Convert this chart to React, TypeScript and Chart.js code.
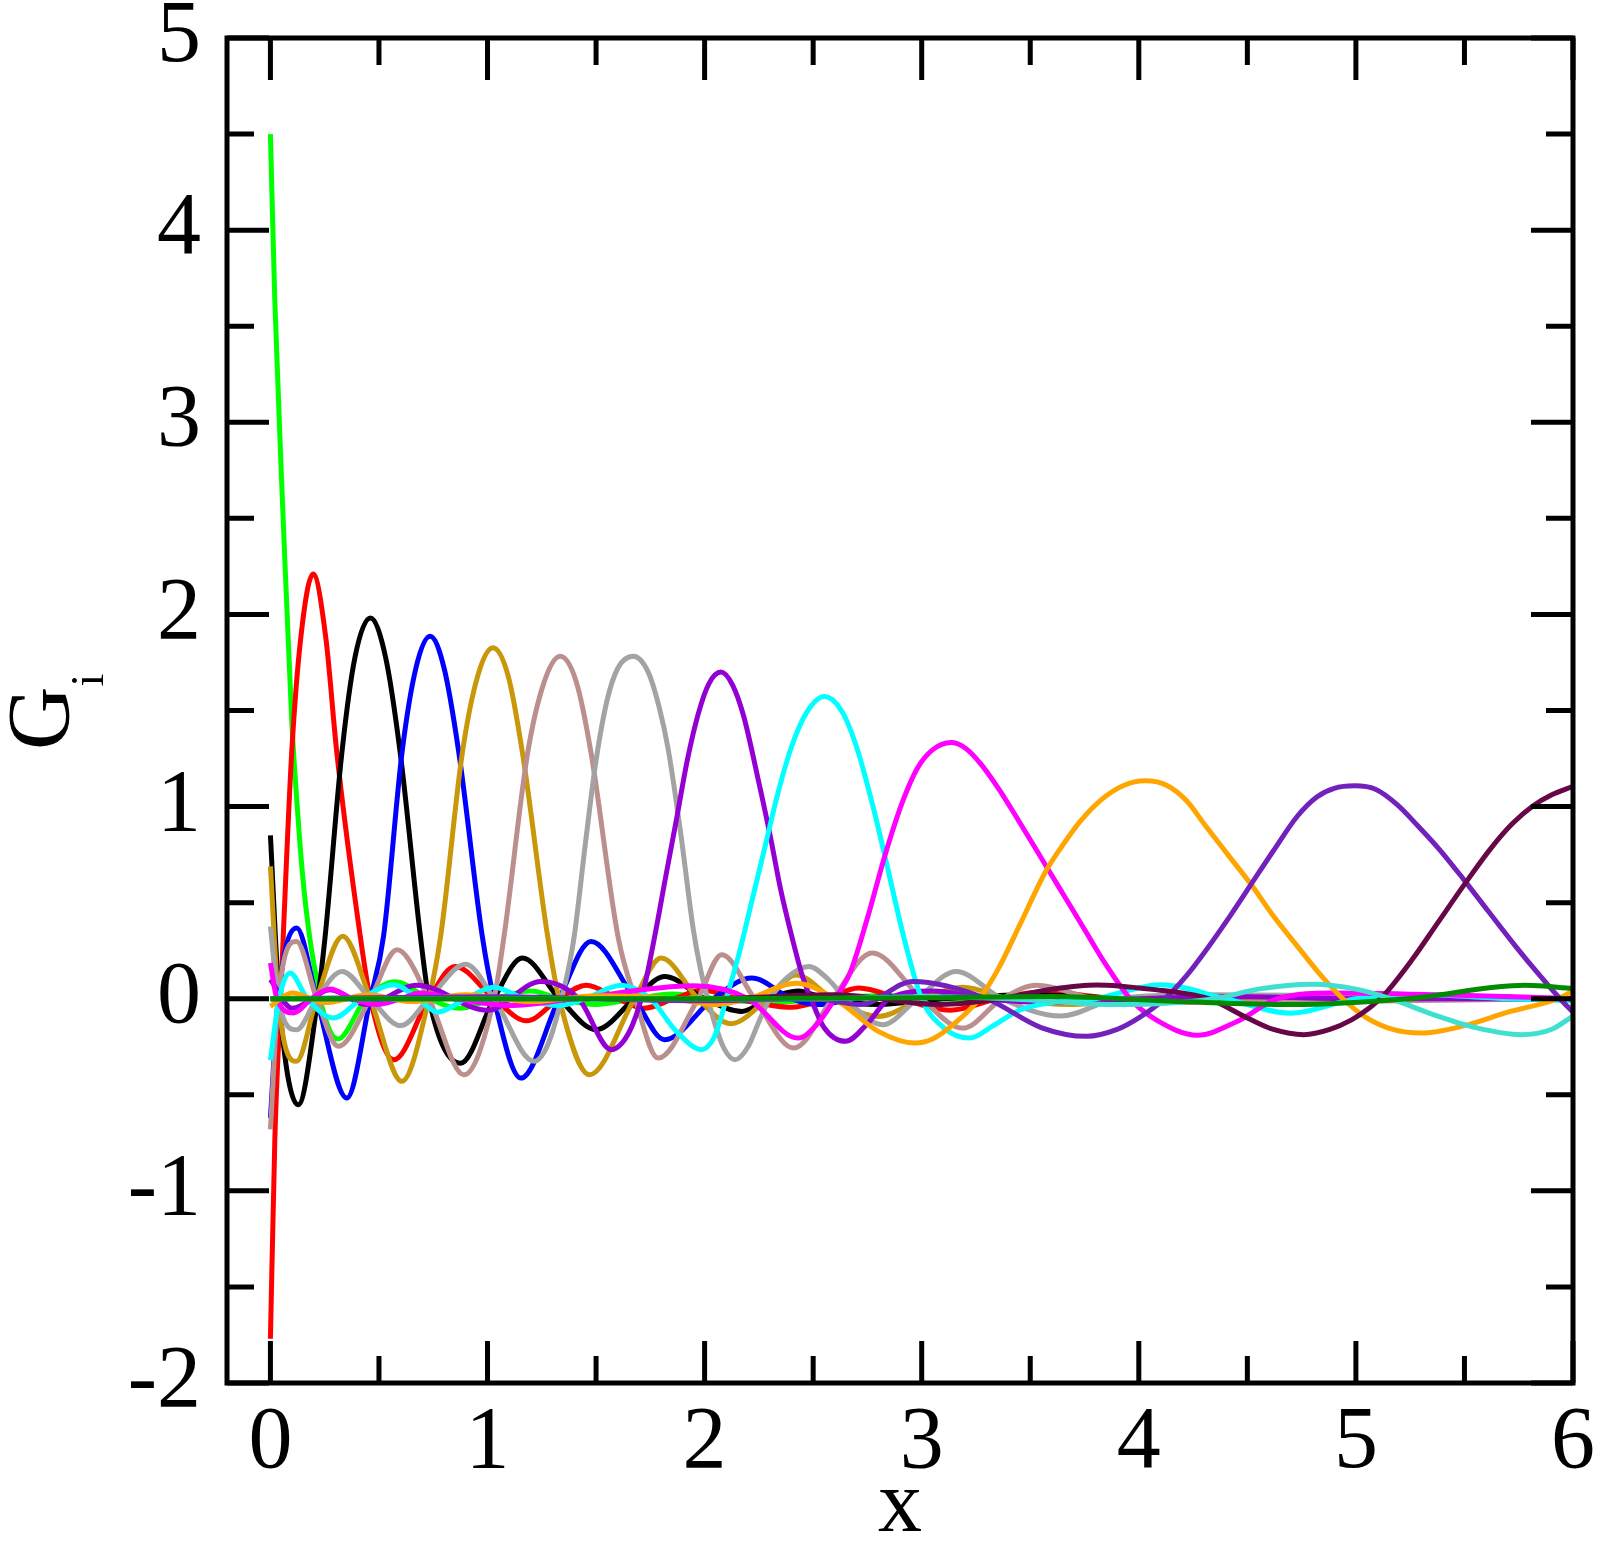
import React, { useEffect, useRef } from 'react';
import { Chart, registerables } from 'chart.js';

Chart.register(...registerables);

// ---- axis ticks ----
const X_MAJOR = [0, 1, 2, 3, 4, 5, 6];
const X_MINOR = [0.5, 1.5, 2.5, 3.5, 4.5, 5.5];
const Y_MAJOR = [-2, -1, 0, 1, 2, 3, 4, 5];
const Y_MINOR = [-1.5, -0.5, 0.5, 1.5, 2.5, 3.5, 4.5];
const X_MIN = -0.2;
const X_MAX = 6;
const Y_MIN = -2;
const Y_MAX = 5;

// ---- series values ----
const greenX = [0, 0.02, 0.059, 0.098, 0.121, 0.15, 0.182, 0.213, 0.228, 0.31, 0.44, 0.575, 0.73, 0.87, 1.03, 1.2, 1.33, 1.5, 1.68, 1.85, 2.05, 2.3, 2.56, 2.8, 3.1, 3.5, 4.0, 4.5, 5.0, 6.0];
const greenY = [4.5, 3.64, 2.49, 1.45, 1.04, 0.62, 0.31, 0.1, 0, -0.21, 0, 0.088, 0, -0.05, 0, 0.04, 0, -0.03, 0, 0.025, 0, -0.02, 0, 0.015, 0, -0.01, 0, 0.005, 0, 0];

const redX = [0, 0.0204, 0.047, 0.059, 0.098, 0.14, 0.197, 0.255, 0.306, 0.414, 0.46, 0.568, 0.73, 0.85, 1.03, 1.18, 1.33, 1.455, 1.6, 1.72, 1.86, 1.99, 2.15, 2.4, 2.56, 2.71, 2.9, 3.13, 3.35, 3.55, 3.9, 4.3, 4.8, 5.3, 6.0];
const redY = [-1.77, -0.73, 0, 0.324, 1.279, 1.88, 2.21, 1.88, 1.279, 0.324, 0, -0.318, 0, 0.168, 0, -0.115, 0, 0.07, 0, -0.05, 0, 0.045, 0, -0.045, 0, 0.056, 0, -0.06, 0, 0.035, 0, -0.02, 0, 0.015, 0];

const blackX = [0, 0.04, 0.128, 0.218, 0.252, 0.329, 0.39, 0.46, 0.53, 0.598, 0.691, 0.73, 0.876, 1.03, 1.161, 1.331, 1.5, 1.677, 1.816, 2.0, 2.172, 2.294, 2.43, 2.56, 2.8, 3.1, 3.5, 4.0, 6.0];
const blackY = [0.85, 0, -0.552, 0, 0.324, 1.279, 1.78, 1.982, 1.78, 1.279, 0.324, 0, -0.336, 0, 0.212, 0, -0.161, 0, 0.116, 0, -0.066, 0, 0.04, 0, -0.03, 0, 0.02, 0, 0];

const blueX = [0, 0.036, 0.121, 0.213, 0.352, 0.46, 0.521, 0.606, 0.67, 0.736, 0.8, 0.868, 0.976, 1.03, 1.154, 1.33, 1.477, 1.677, 1.816, 2.04, 2.217, 2.4, 2.52, 2.7, 3.0, 3.4, 6.0];
const blueY = [-0.62, 0, 0.368, 0, -0.517, 0, 0.324, 1.279, 1.72, 1.886, 1.72, 1.279, 0.324, 0, -0.413, 0, 0.298, 0, -0.213, 0, 0.108, 0, -0.03, 0, 0.015, 0, 0];

const goldX = [0, 0.036, 0.12, 0.213, 0.333, 0.46, 0.606, 0.73, 0.784, 0.884, 0.955, 1.025, 1.095, 1.161, 1.277, 1.33, 1.47, 1.677, 1.8, 1.97, 2.12, 2.29, 2.42, 2.59, 2.8, 3.0, 3.19, 3.4, 3.7, 4.0, 6.0];
const goldY = [0.689, 0, -0.326, 0, 0.325, 0, -0.43, 0, 0.324, 1.279, 1.68, 1.826, 1.68, 1.279, 0.324, 0, -0.396, 0, 0.212, 0, -0.13, 0, 0.124, 0, -0.092, 0, 0.06, 0, -0.03, 0, 0];

const rosyX = [0, 0.036, 0.12, 0.213, 0.313, 0.46, 0.583, 0.73, 0.891, 1.03, 1.076, 1.185, 1.26, 1.335, 1.41, 1.477, 1.601, 1.68, 1.786, 1.97, 2.079, 2.23, 2.41, 2.59, 2.772, 3.0, 3.189, 3.37, 3.53, 3.8, 4.2, 6.0];
const rosyY = [-0.68, 0, 0.298, 0, -0.248, 0, 0.255, 0, -0.396, 0, 0.324, 1.279, 1.645, 1.782, 1.645, 1.279, 0.324, 0, -0.309, 0, 0.229, 0, -0.257, 0, 0.238, 0, -0.153, 0, 0.07, 0, -0.02, 0];

const grayX = [0, 0.036, 0.12, 0.213, 0.33, 0.46, 0.6, 0.73, 0.9, 1.03, 1.215, 1.26, 1.3, 1.34, 1.37, 1.4, 1.45, 1.5, 1.55, 1.6, 1.672, 1.74, 1.79, 1.832, 1.89, 1.948, 1.98, 2.01, 2.05, 2.09, 2.14, 2.2, 2.25, 2.3, 2.38, 2.48, 2.57, 2.65, 2.82, 2.98, 3.158, 3.37, 3.64, 3.9, 4.3, 6.0];
const grayY = [0.376, 0, -0.162, 0, 0.142, 0, -0.14, 0, 0.18, 0, -0.326, -0.28, -0.17, 0, 0.14, 0.33, 0.8, 1.24, 1.55, 1.72, 1.782, 1.7, 1.52, 1.3, 0.86, 0.36, 0.16, 0.02, -0.14, -0.26, -0.318, -0.25, -0.12, 0, 0.11, 0.168, 0.1, 0, -0.135, 0, 0.142, 0, -0.09, 0, 0.02, 0];

const violetX = [0, 0.1, 0.275, 0.44, 0.675, 1.0, 1.246, 1.42, 1.57, 1.62, 1.67, 1.72, 1.77, 1.82, 1.873, 1.92, 1.97, 2.02, 2.075, 2.13, 2.18, 2.247, 2.3, 2.35, 2.405, 2.45, 2.49, 2.55, 2.649, 2.75, 2.85, 3.05, 3.3, 3.6, 4.0, 4.5, 5.0, 6.0];
const violetY = [0.1, -0.05, 0.047, -0.03, 0.07, -0.06, 0.09, 0, -0.265, -0.23, -0.13, 0.05, 0.324, 0.63, 0.95, 1.24, 1.48, 1.64, 1.7, 1.63, 1.47, 1.14, 0.86, 0.57, 0.309, 0.12, 0, -0.15, -0.222, -0.13, 0, 0.04, 0, -0.02, 0, 0.01, 0, 0];

const cyanX = [0, 0.04, 0.09, 0.17, 0.29, 0.42, 0.568, 0.68, 0.77, 0.9, 1.03, 1.17, 1.33, 1.45, 1.616, 1.75, 1.87, 1.986, 2.04, 2.07, 2.1, 2.16, 2.22, 2.28, 2.34, 2.4, 2.47, 2.552, 2.63, 2.7, 2.775, 2.834, 2.92, 3.0, 3.1, 3.22, 3.33, 3.45, 3.6, 3.8, 4.1, 4.4, 4.7, 5.0, 5.3, 5.7, 6.0];
const cyanY = [-0.32, 0, 0.134, 0, -0.1, 0, 0.073, 0, -0.07, 0, 0.06, 0, -0.035, 0, 0.07, 0, -0.17, -0.265, -0.21, -0.12, 0, 0.24, 0.52, 0.8, 1.08, 1.31, 1.49, 1.573, 1.5, 1.31, 1.003, 0.724, 0.309, 0, -0.15, -0.205, -0.14, -0.06, -0.02, 0, 0.073, 0, -0.075, 0, 0.02, 0, -0.01];

const magentaX = [0, 0.03, 0.107, 0.19, 0.275, 0.38, 0.49, 0.6, 0.69, 0.85, 1.1, 1.4, 1.95, 2.2, 2.43, 2.52, 2.6, 2.67, 2.75, 2.83, 2.91, 2.98, 3.05, 3.135, 3.2, 3.27, 3.35, 3.45, 3.568, 3.651, 3.75, 3.85, 3.96, 4.08, 4.27, 4.45, 4.64, 4.9, 5.4, 6.0];
const magentaY = [0.186, 0, -0.074, 0, 0.05, 0, -0.03, 0, 0.03, 0, -0.035, 0, 0.067, 0, -0.205, -0.13, 0, 0.135, 0.42, 0.743, 1.02, 1.2, 1.295, 1.333, 1.305, 1.225, 1.1, 0.92, 0.7, 0.545, 0.36, 0.175, 0, -0.11, -0.19, -0.12, 0, 0.03, 0.02, 0];

const orangeX = [0, 0.1, 0.25, 0.45, 0.65, 0.9, 1.2, 1.5, 1.85, 2.05, 2.2, 2.42, 2.6, 2.8, 2.97, 3.05, 3.15, 3.266, 3.35, 3.45, 3.568, 3.65, 3.73, 3.832, 3.93, 4.03, 4.13, 4.22, 4.308, 4.41, 4.52, 4.62, 4.73, 4.84, 4.94, 5.05, 5.17, 5.3, 5.5, 5.7, 5.93, 6.0];
const orangeY = [-0.04, 0.03, -0.02, 0.02, -0.015, 0.02, -0.015, 0.015, 0, -0.03, 0, 0.08, 0, -0.17, -0.231, -0.21, -0.13, 0, 0.15, 0.38, 0.656, 0.8, 0.923, 1.04, 1.11, 1.134, 1.11, 1.03, 0.899, 0.75, 0.59, 0.43, 0.274, 0.12, 0, -0.1, -0.16, -0.179, -0.14, -0.07, 0, 0.04];

const indigoX = [0, 1.0, 2.0, 2.5, 2.72, 2.96, 3.3, 3.55, 3.76, 3.9, 4.0, 4.12, 4.22, 4.308, 4.42, 4.52, 4.62, 4.731, 4.82, 4.9, 4.995, 5.09, 5.19, 5.286, 5.39, 5.497, 5.61, 5.735, 5.84, 5.94, 6.0];
const indigoY = [0, 0.01, -0.01, 0, -0.03, 0.09, 0, -0.15, -0.196, -0.16, -0.1, 0, 0.12, 0.25, 0.43, 0.6, 0.77, 0.951, 1.05, 1.095, 1.108, 1.09, 1.01, 0.899, 0.77, 0.62, 0.455, 0.274, 0.13, 0, -0.07];

const maroonX = [0, 2.0, 2.6, 3.09, 3.36, 3.6, 3.806, 4.05, 4.32, 4.5, 4.62, 4.76, 4.88, 4.98, 5.06, 5.13, 5.26, 5.38, 5.5, 5.62, 5.72, 5.815, 5.9, 6.0];
const maroonY = [0, 0, 0.02, -0.03, 0, 0.05, 0.072, 0.05, 0, -0.1, -0.16, -0.187, -0.16, -0.11, -0.05, 0.02, 0.205, 0.4, 0.595, 0.78, 0.91, 1.003, 1.06, 1.105];

const turquoiseX = [0, 2.5, 3.0, 3.4, 3.9, 4.35, 4.55, 4.8, 5.0, 5.16, 5.35, 5.55, 5.76, 5.9, 6.0];
const turquoiseY = [0, 0, 0.01, 0, -0.03, 0, 0.05, 0.075, 0.05, 0, -0.08, -0.15, -0.187, -0.16, -0.09];

const green4X = [0, 2.0, 3.0, 3.6, 4.2, 4.7, 5.24, 5.78, 6.0];
const green4Y = [0, 0, 0.005, 0.012, -0.015, -0.03, 0, 0.07, 0.053];

const SERIES = [
  { name: 'G1', color: '#00ff00', xs: greenX, ys: greenY },
  { name: 'G2', color: '#ff0000', xs: redX, ys: redY },
  { name: 'G3', color: '#000000', xs: blackX, ys: blackY },
  { name: 'G4', color: '#0000ff', xs: blueX, ys: blueY },
  { name: 'G5', color: '#c9970a', xs: goldX, ys: goldY },
  { name: 'G6', color: '#bc8f8f', xs: rosyX, ys: rosyY },
  { name: 'G7', color: '#a3a3a3', xs: grayX, ys: grayY },
  { name: 'G8', color: '#9400d3', xs: violetX, ys: violetY },
  { name: 'G9', color: '#00ffff', xs: cyanX, ys: cyanY },
  { name: 'G10', color: '#ff00ff', xs: magentaX, ys: magentaY },
  { name: 'G11', color: '#ffa500', xs: orangeX, ys: orangeY },
  { name: 'G12', color: '#7221bc', xs: indigoX, ys: indigoY },
  { name: 'G13', color: '#670748', xs: maroonX, ys: maroonY },
  { name: 'G14', color: '#40e0d0', xs: turquoiseX, ys: turquoiseY },
  { name: 'G15', color: '#008b00', xs: green4X, ys: green4Y },
];

const FONT_FAMILY = "'Liberation Serif', 'Times New Roman', serif";
const TICK_FONT_SIZE = 88;

const framePlugin = {
  id: 'xmgraceFrame',
  afterDatasetsDraw(chart: any) {
    const { ctx, chartArea } = chart;
    const { left, right, top, bottom } = chartArea;
    const xs = chart.scales.x;
    const ys = chart.scales.y;
    const MAJOR = 42;
    const MINOR = 27;
    ctx.save();
    ctx.strokeStyle = '#000';
    ctx.lineWidth = 5;
    ctx.lineCap = 'butt';
    ctx.beginPath();
    const tickX = (v: number, len: number) => {
      const p = xs.getPixelForValue(v);
      ctx.moveTo(p, bottom);
      ctx.lineTo(p, bottom - len);
      ctx.moveTo(p, top);
      ctx.lineTo(p, top + len);
    };
    const tickY = (v: number, len: number) => {
      const p = ys.getPixelForValue(v);
      ctx.moveTo(left, p);
      ctx.lineTo(left + len, p);
      ctx.moveTo(right, p);
      ctx.lineTo(right - len, p);
    };
    X_MAJOR.forEach((v) => tickX(v, MAJOR));
    X_MINOR.forEach((v) => tickX(v, MINOR));
    Y_MAJOR.forEach((v) => tickY(v, MAJOR));
    Y_MINOR.forEach((v) => tickY(v, MINOR));
    ctx.stroke();
    ctx.lineJoin = 'miter';
    ctx.strokeRect(left, top, right - left, bottom - top);
    ctx.restore();
  },
  afterDraw(chart: any) {
    const { ctx, chartArea } = chart;
    ctx.save();
    ctx.fillStyle = '#000';
    // x axis title
    ctx.font = `${TICK_FONT_SIZE}px ${FONT_FAMILY}`;
    ctx.textAlign = 'center';
    ctx.textBaseline = 'alphabetic';
    ctx.fillText('x', (chartArea.left + chartArea.right) / 2, 1531);
    // y axis title G_i (rotated)
    ctx.translate(68, 750);
    ctx.rotate(-Math.PI / 2);
    ctx.textAlign = 'left';
    ctx.fillText('G', 0, 0);
    const w = ctx.measureText('G').width;
    ctx.font = `46px ${FONT_FAMILY}`;
    ctx.fillText('i', w, 35);
    ctx.restore();
  },
};

export default function App() {
  const ref = useRef<HTMLCanvasElement | null>(null);

  useEffect(() => {
    const canvas = ref.current;
    if (!canvas) return;
    const datasets = SERIES.map((s, i) => ({
      label: s.name,
      data: s.xs.map((x, k) => ({ x, y: s.ys[k] })),
      borderColor: s.color,
      backgroundColor: s.color,
      borderWidth: 5,
      pointRadius: 0,
      pointHoverRadius: 0,
      fill: false,
      cubicInterpolationMode: 'monotone' as const,
      order: SERIES.length - 1 - i,
    }));
    const chart = new Chart(canvas, {
      type: 'line',
      data: { datasets },
      options: {
        responsive: false,
        animation: false,
        devicePixelRatio: 1,
        layout: { padding: { left: 0, right: 27, top: 38, bottom: 0 } },
        plugins: {
          legend: { display: false },
          tooltip: { enabled: false },
          title: { display: false },
        },
        scales: {
          x: {
            type: 'linear',
            min: X_MIN,
            max: X_MAX,
            grid: { display: false, drawTicks: false },
            border: { display: false },
            ticks: {
              autoSkip: false,
              maxRotation: 0,
              padding: 8,
              color: '#000',
              font: { family: FONT_FAMILY, size: TICK_FONT_SIZE },
              callback: (v: any) => String(v),
            },
            afterBuildTicks: (scale: any) => {
              scale.ticks = X_MAJOR.map((v) => ({ value: v }));
            },
            afterFit: (scale: any) => {
              scale.height = 159;
              scale.paddingLeft = 0;
              scale.paddingRight = 0;
            },
          },
          y: {
            type: 'linear',
            min: Y_MIN,
            max: Y_MAX,
            grid: { display: false, drawTicks: false },
            border: { display: false },
            ticks: {
              autoSkip: false,
              padding: 26,
              color: '#000',
              font: { family: FONT_FAMILY, size: TICK_FONT_SIZE },
              callback: (v: any) => String(v),
            },
            afterBuildTicks: (scale: any) => {
              scale.ticks = Y_MAJOR.map((v) => ({ value: v }));
            },
            afterFit: (scale: any) => {
              scale.width = 227;
              scale.paddingTop = 0;
              scale.paddingBottom = 0;
            },
          },
        },
      },
      plugins: [framePlugin],
    } as any);
    return () => chart.destroy();
  }, []);

  return (
    <div style={{ position: 'absolute', left: 0, top: 0, width: 1600, height: 1542, background: '#fff' }}>
      <canvas ref={ref} width={1600} height={1542} style={{ display: 'block', width: 1600, height: 1542 }} />
    </div>
  );
}
